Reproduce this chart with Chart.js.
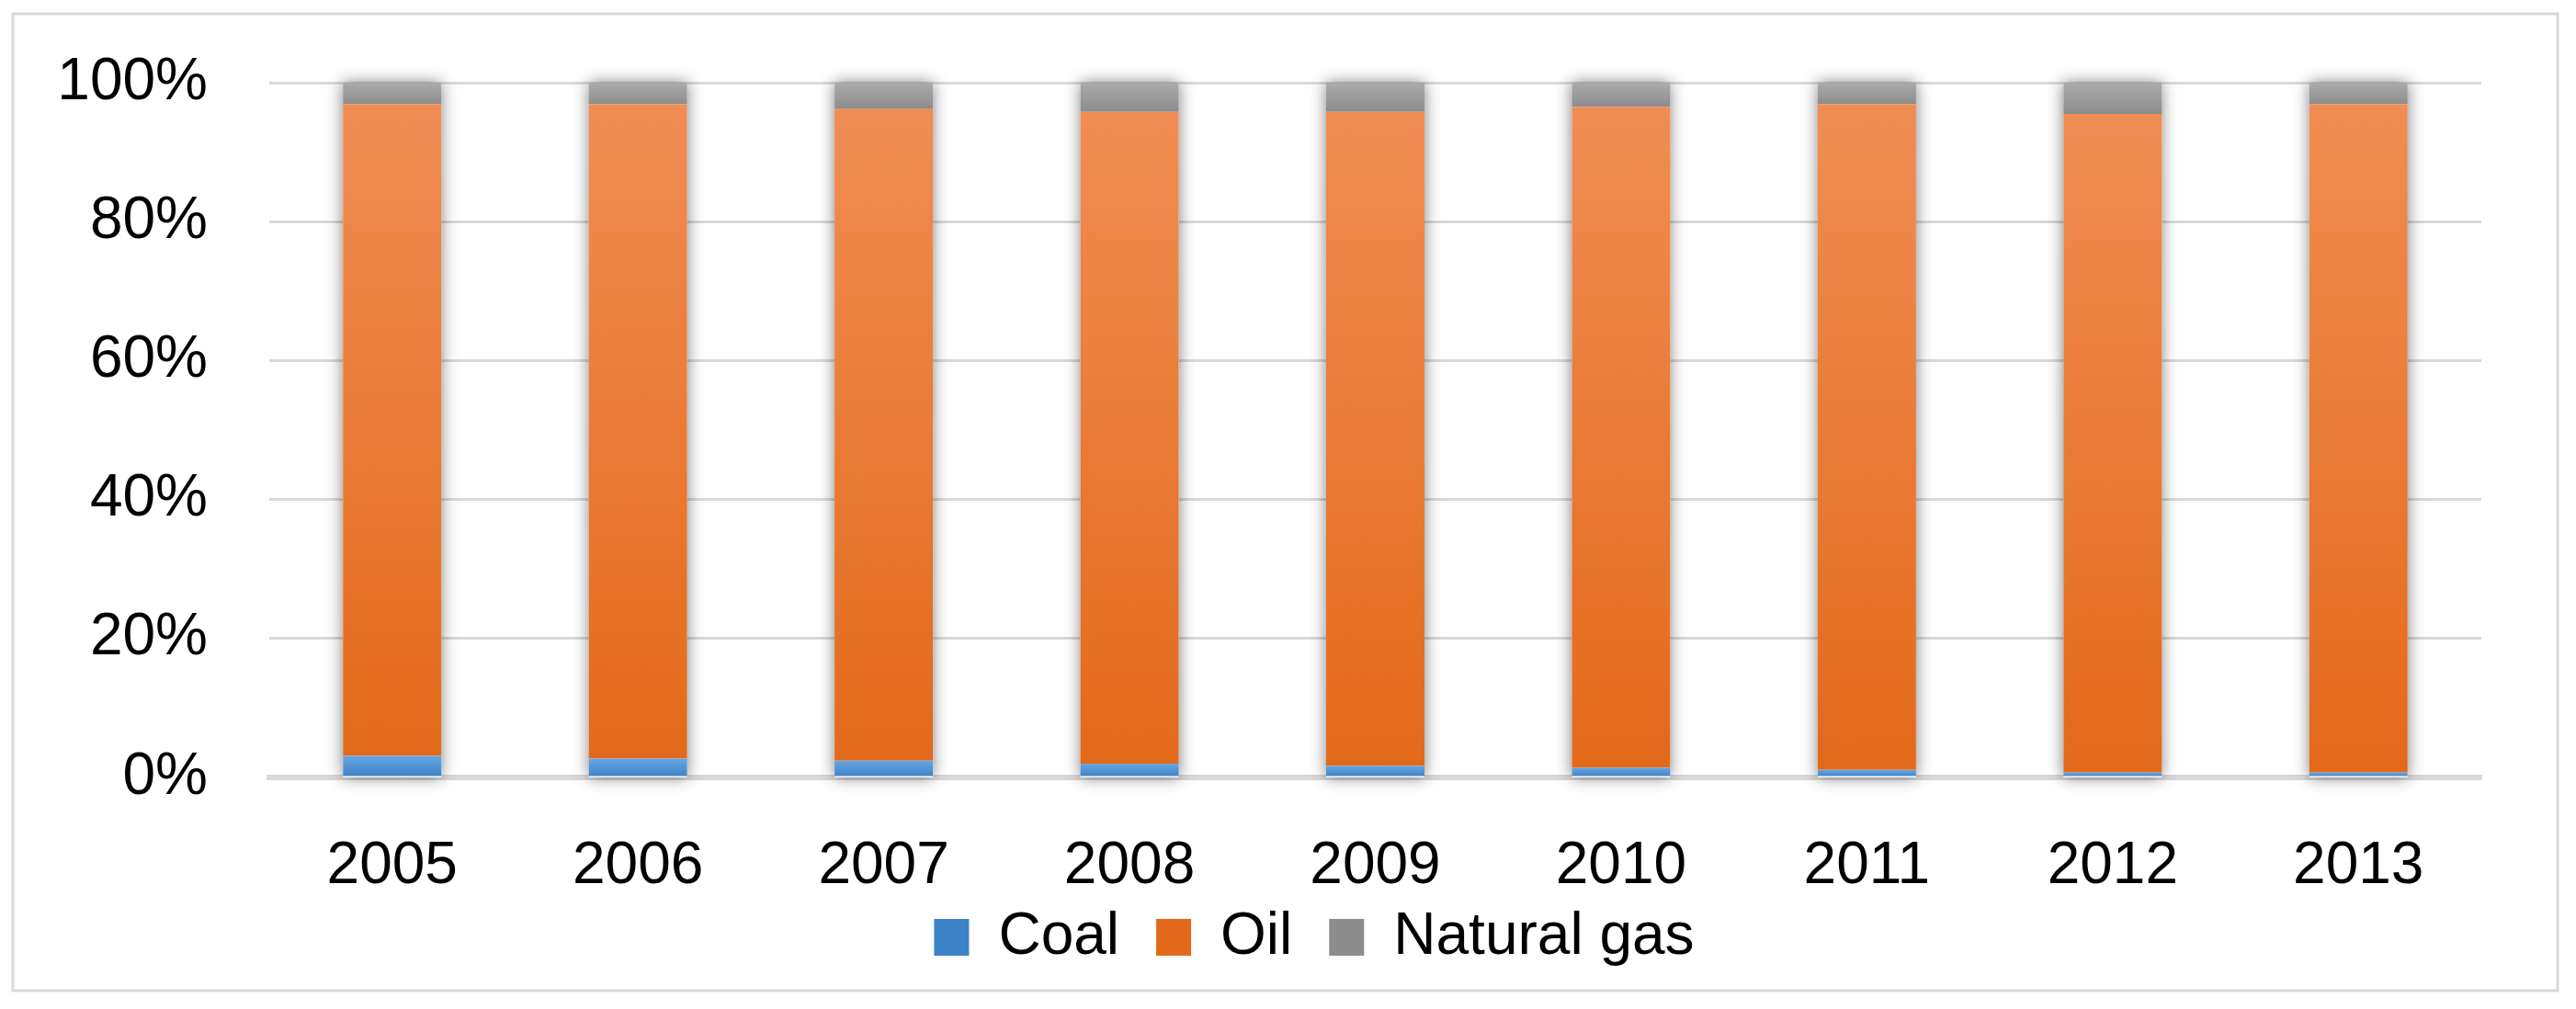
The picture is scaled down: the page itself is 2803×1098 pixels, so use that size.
<!DOCTYPE html>
<html>
<head>
<meta charset="utf-8">
<script src="https://cdn.jsdelivr.net/npm/chart.js@4.4.1/dist/chart.umd.min.js"></script>
<style>
  html, body { margin: 0; padding: 0; background: #fff; }
  #wrap { width: 2803px; height: 1098px; }
</style>
</head>
<body>
<div id="wrap"><canvas id="energyChart"></canvas></div>
<script>
// data (share of each fuel, %)
const years = ['2005', '2006', '2007', '2008', '2009', '2010', '2011', '2012', '2013'];
const coal = [3.1, 2.7, 2.4, 2.0, 1.7, 1.4, 1.1, 0.7, 0.7];
const oil = [93.8, 94.2, 93.8, 93.8, 94.1, 95.1, 95.8, 94.8, 96.2];
const naturalGas = [3.1, 3.1, 3.8, 4.2, 4.2, 3.5, 3.1, 4.5, 3.1];
const yTicks = [0, 20, 40, 60, 80, 100];

const FONT = { family: "'Liberation Sans', Arial, sans-serif", size: 64 };

// vertical gradient for one stacked segment, light on top, dark at the bottom
function segmentFill(light, dark, flat) {
    return c => {
        const chart = c.chart;
        if (c.type !== 'data' || !chart.chartArea) return flat;
        const y = chart.scales.y;
        let lower = 0;
        for (let d = 0; d < c.datasetIndex; d++) lower += chart.data.datasets[d].data[c.dataIndex];
        const upper = lower + chart.data.datasets[c.datasetIndex].data[c.dataIndex];
        const top = y.getPixelForValue(upper);
        const bottom = y.getPixelForValue(lower);
        if (!isFinite(top) || !isFinite(bottom) || top === bottom) return flat;
        const g = chart.ctx.createLinearGradient(0, top, 0, bottom);
        g.addColorStop(0, light);
        g.addColorStop(1, dark);
        return g;
    };
}

// white page with the light grey frame round the chart
const frame = {
    id: 'frame',
    beforeDraw(chart) {
        const ctx = chart.ctx;
        ctx.save();
        ctx.fillStyle = '#fff';
        ctx.fillRect(0, 0, chart.width, chart.height);
        ctx.strokeStyle = '#d9d9d9';
        ctx.lineWidth = 3;
        ctx.strokeRect(14, 15, 2769, 1063);
        ctx.restore();
    }
};

// legend sits close under the years, a bit right of the canvas centre
const legendPlace = {
    id: 'legendPlace',
    afterLayout(chart) {
        const lg = chart.legend;
        const w = lg.right - lg.left;
        const h = lg.bottom - lg.top;
        lg.left = 1430 - w / 2;
        lg.right = lg.left + w;
        lg.top = 948;
        lg.bottom = lg.top + h;
    }
};

// soft shadow behind every column
const columnShadow = {
    id: 'columnShadow',
    beforeDatasetsDraw(chart) {
        const meta = chart.getDatasetMeta(0);
        const y = chart.scales.y;
        const ctx = chart.ctx;
        ctx.save();
        ctx.shadowColor = 'rgba(0, 0, 0, 0.5)';
        ctx.shadowBlur = 16;
        ctx.fillStyle = '#fff';
        meta.data.forEach(bar => {
            const top = y.getPixelForValue(100);
            const bottom = y.getPixelForValue(0);
            ctx.fillRect(bar.x - bar.width / 2, top, bar.width, bottom - top);
        });
        ctx.restore();
    }
};

const ctx = document.getElementById('energyChart').getContext('2d');
const energyChart = new Chart(ctx, {
    type: 'bar',
    data: {
        labels: years,
        datasets: [
            { label: 'Coal', data: coal, backgroundColor: segmentFill('#66a5e2', '#3c82c6', '#5596d8') },
            { label: 'Oil', data: oil, backgroundColor: segmentFill('#f08d53', '#e3691a', '#ec7b34') },
            { label: 'Natural gas', data: naturalGas, backgroundColor: segmentFill('#ababab', '#8c8c8c', '#a0a0a0') }
        ]
    },
    options: {
        responsive: true,
        maintainAspectRatio: false,
        animation: false,
        datasets: {
            bar: { categoryPercentage: 1, barPercentage: 0.4, borderWidth: 0 }
        },
        layout: {
            padding: { left: 40, right: 103, top: 90, bottom: 6 }
        },
        plugins: {
            legend: {
                position: 'bottom',
                labels: {
                    font: FONT,
                    color: '#000',
                    boxWidth: 38,
                    boxHeight: 40,
                    padding: 40
                }
            },
            tooltip: { enabled: false }
        },
        scales: {
            x: {
                stacked: true,
                grid: { display: false },
                border: { color: '#d9d9d9', width: 6 },
                ticks: { font: FONT, color: '#000', padding: 51 },
                afterFit: s => { s.height = 132; }
            },
            y: {
                stacked: true,
                min: 0,
                max: 100,
                afterBuildTicks: s => { s.ticks = yTicks.map(v => ({ value: v })); },
                grid: {
                    color: c => c.tick && c.tick.value === 0 ? 'rgba(0,0,0,0)' : '#d9d9d9',
                    lineWidth: 3,
                    drawTicks: false
                },
                border: { display: false },
                ticks: { font: FONT, color: '#000', padding: 67, callback: v => v + '%' },
                afterFit: s => {
                    s.width = 253;
                    // the tick padding is sideways only, so don't let it push the plot down
                    s.paddingTop = 0;
                    s.paddingBottom = 0;
                }
            }
        }
    },
    plugins: [frame, legendPlace, columnShadow]
});
</script>
</body>
</html>
